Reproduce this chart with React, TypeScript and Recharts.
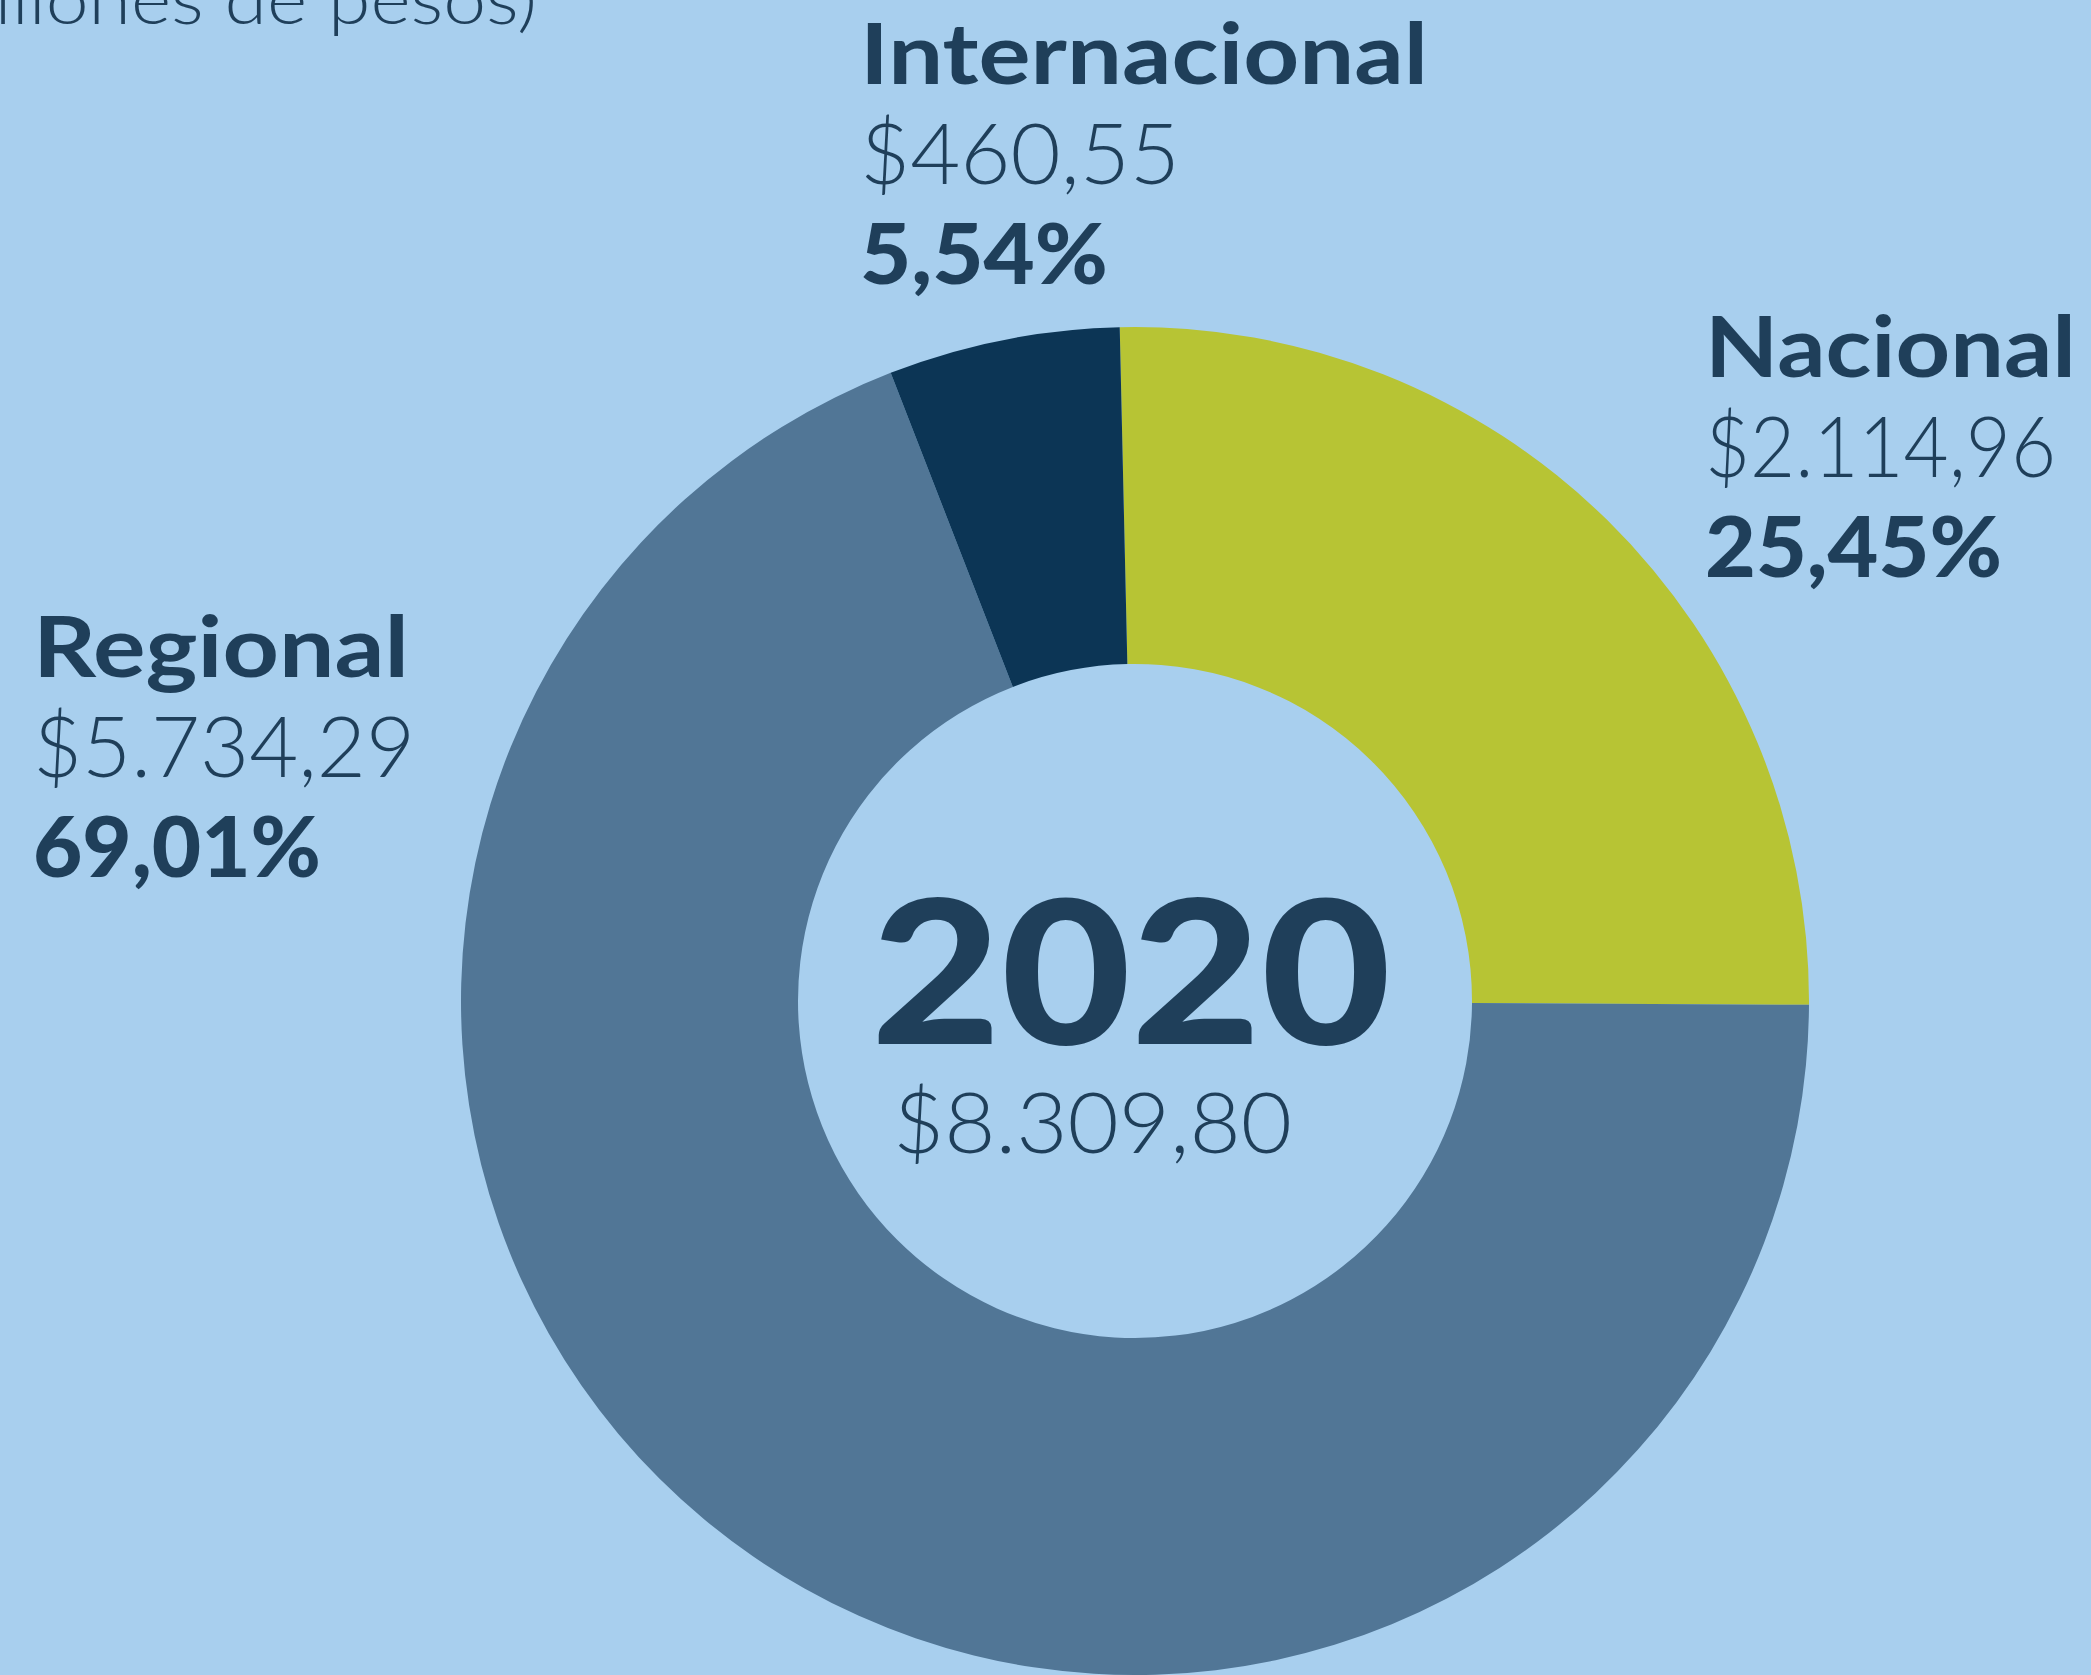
import { PieChart, Pie, Cell } from "recharts";

const NAMES = ["Nacional", "Regional", "Internacional"];
const VALUES = [2114.96, 5734.29, 460.55];
const COLORS = ["#B7C434", "#517696", "#0C3555"];
const YEAR = "2020";
const SUBTITLE = "(En millones de pesos)";

const W = 2091;
const H = 1675;
const BG = "#A8CFEE";
const INK = "#1F3F5A";
const FONT = "Lato, 'Open Sans', sans-serif";

// where each label block sits: left x, first baseline, width of each of the 3 lines
const LABEL_POS: Record<string, { x: number; y: number; w: number[] }> = {
  Nacional: { x: 1705, y: 377, w: [371, 351, 297] },
  Regional: { x: 33, y: 677, w: [376, 382, 288] },
  Internacional: { x: 860, y: 84, w: [568, 320, 248] },
};
const LINE = 100;

function fmtMoney(v: number): string {
  const [i, d] = v.toFixed(2).split(".");
  return "$" + i.replace(/\B(?=(\d{3})+(?!\d))/g, ".") + "," + d;
}

function fmtPct(p: number): string {
  return (p * 100).toFixed(2).replace(".", ",") + "%";
}

const data = NAMES.map((name, i) => ({ name, value: VALUES[i] }));
const total = VALUES.reduce((a, b) => a + b, 0);

function SliceLabel(props: any) {
  const pos = LABEL_POS[props.name];
  if (!pos) return null;
  const lines = [
    { text: props.name, weight: 700 },
    { text: fmtMoney(props.value), weight: 300 },
    { text: fmtPct(props.percent), weight: 900 },
  ];
  return (
    <g>
      {lines.map((l, i) => (
        <text
          key={i}
          x={pos.x}
          y={pos.y + i * LINE}
          fill={INK}
          fontFamily={FONT}
          fontSize={84}
          fontWeight={l.weight}
          textLength={pos.w[i]}
          lengthAdjust="spacingAndGlyphs"
        >
          {l.text}
        </text>
      ))}
    </g>
  );
}

export default function App() {
  return (
    <div
      style={{
        position: "absolute",
        left: 0,
        top: 0,
        width: W,
        height: H,
        background: BG,
        overflow: "hidden",
      }}
    >
      <PieChart width={W} height={H} margin={{ top: 0, right: 0, bottom: 0, left: 0 }}>
        <Pie
          data={data}
          dataKey="value"
          nameKey="name"
          cx={1135}
          cy={1001}
          innerRadius={337}
          outerRadius={674}
          startAngle={91.3}
          endAngle={-268.7}
          stroke="none"
          label={SliceLabel}
          labelLine={false}
          isAnimationActive={false}
        >
          {data.map((d, i) => (
            <Cell key={d.name} fill={COLORS[i]} />
          ))}
        </Pie>
      </PieChart>

      {/* subtitle (cut at the top-left edge) and centre total */}
      <svg width={W} height={H} style={{ position: "absolute", left: 0, top: 0, pointerEvents: "none" }}>
        <g transform="translate(537,24) scale(1.115,1)">
          <text x={0} y={0} textAnchor="end" fill={INK} fontFamily={FONT} fontSize={69} fontWeight={300}>
            {SUBTITLE}
          </text>
        </g>
        <text
          x={871}
          y={1044}
          fill={INK}
          fontFamily={FONT}
          fontSize={200}
          fontWeight={900}
          textLength={520}
          lengthAdjust="spacingAndGlyphs"
        >
          {YEAR}
        </text>
        <text
          x={893}
          y={1153}
          fill={INK}
          fontFamily={FONT}
          fontSize={84}
          fontWeight={300}
          textLength={399}
          lengthAdjust="spacingAndGlyphs"
        >
          {fmtMoney(total)}
        </text>
      </svg>
    </div>
  );
}
